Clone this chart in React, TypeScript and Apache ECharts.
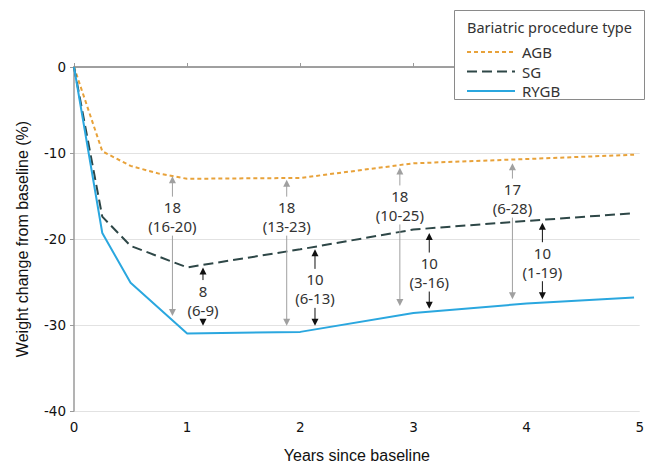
import React, { useEffect, useRef } from "react";
import * as echarts from "echarts";

// ---- data ----
const agbX = [0, 0.25, 0.5, 0.75, 1, 2, 3, 4, 4.95];
const agbY = [0, -9.8, -11.5, -12.4, -13.0, -12.9, -11.2, -10.7, -10.2];
const sgX = [0, 0.25, 0.5, 1, 2, 3, 4, 4.95];
const sgY = [0, -17.4, -20.8, -23.3, -21.2, -18.9, -17.9, -17.0];
const rygbX = [0, 0.25, 0.5, 1, 2, 3, 4, 4.95];
const rygbY = [0, -19.3, -25.1, -31.0, -30.8, -28.6, -27.5, -26.8];

const seriesNames = ["AGB", "SG", "RYGB"];
const xTicks = [0, 1, 2, 3, 4, 5];
const yTicks = [-40, -30, -20, -10, 0];

// annotations: difference arrows (x, top tip, text centre, bottom tip)
const annX = [0.87, 1.88, 2.88, 3.875, 1.14, 2.13, 3.14, 4.14];
const annTop = [-12.7, -13.1, -11.7, -11.2, -23.3, -21.2, -19.3, -18.1];
const annMid = [-17.4, -17.4, -16.1, -15.3, -27.1, -25.8, -23.9, -22.7];
const annBottom = [-28.95, -30.1, -27.8, -27.0, -30.1, -30.1, -28.1, -27.0];
const annValue = ["18", "18", "18", "17", "8", "10", "10", "10"];
const annRange = ["(16-20)", "(13-23)", "(10-25)", "(6-28)", "(6-9)", "(6-13)", "(3-16)", "(1-19)"];
const annKind = ["gray", "gray", "gray", "gray", "black", "black", "black", "black"];

const zip = (xs: number[], ys: number[]) => xs.map((x, i) => [x, ys[i]]);

const colors = ["#e8a23a", "#2e4747", "#2aa7df"];
const dashes: any[] = [[4, 3], [10, 5], "solid"];

export default function App() {
  const ref = useRef<HTMLDivElement>(null);
  useEffect(() => {
    document.body.style.margin = "0";
    const chart = echarts.init(ref.current!, undefined, { renderer: "svg" });
    const axisGray = "#9a9a9a";
    const font = "'Noto Sans', sans-serif";
    const swatchTop = 52;
    const legendStep = 19.5;
    chart.setOption({
      animation: false,
      backgroundColor: "#ffffff",
      grid: { left: 74, right: 4, top: 67, bottom: 56 },
      xAxis: [
        {
          type: "value",
          min: xTicks[0],
          max: xTicks[xTicks.length - 1],
          interval: 1,
          name: "Years since baseline",
          nameLocation: "middle",
          nameGap: 36,
          nameTextStyle: { fontFamily: "'Liberation Sans', Arial, sans-serif", fontSize: 16, color: "#111" },
          axisLine: { show: true, lineStyle: { color: axisGray, width: 1.5 } },
          axisTick: { show: true, inside: true, length: 4, lineStyle: { color: axisGray } },
          axisLabel: { fontFamily: "'DejaVu Sans', sans-serif", fontSize: 13.5, color: "#111", margin: 9 },
          splitLine: { show: false },
        },
        {
          type: "value",
          position: "top",
          min: 0,
          max: 5,
          axisLine: { show: true, onZero: false, lineStyle: { color: axisGray, width: 1.5 } },
          axisTick: { show: false },
          axisLabel: { show: false },
          splitLine: { show: false },
        },
      ],
      yAxis: {
        type: "value",
        min: yTicks[0],
        max: yTicks[yTicks.length - 1],
        interval: 10,
        name: "Weight change from baseline (%)",
        nameLocation: "middle",
        nameGap: 44,
        nameTextStyle: { fontFamily: "'Liberation Sans', Arial, sans-serif", fontSize: 16, color: "#111" },
        axisLine: { show: true, lineStyle: { color: axisGray, width: 1.5 } },
        axisTick: { show: true, length: 4, lineStyle: { color: axisGray } },
        axisLabel: { fontFamily: "'DejaVu Sans', sans-serif", fontSize: 13.5, color: "#111", margin: 8 },
        splitLine: { show: true, lineStyle: { color: "#e2e2e2", width: 1 } },
      },
      legend: {
        data: seriesNames.map((n) => ({ name: n, icon: "none" })),
        orient: "vertical",
        left: 467,
        top: 39,
        itemWidth: 48,
        itemHeight: 16,
        itemGap: legendStep - 16,
        z: 20,
        textStyle: { fontFamily: font, fontSize: 15, lineHeight: 16, color: "#333", padding: [0, 0, 0, -3] },
      },
      graphic: [
        {
          type: "rect",
          left: 454,
          top: 10,
          shape: { width: 190, height: 89 },
          style: { fill: "#fff", stroke: "#8a8a8a", lineWidth: 1 },
          z: 10,
        },
        {
          type: "text",
          left: 467,
          top: 19,
          style: { text: "Bariatric procedure type", fontFamily: font, fontSize: 14.5, fill: "#333" },
          z: 11,
        },
        ...seriesNames.map((n, i) => ({
          type: "line",
          shape: {
            x1: 467,
            y1: swatchTop + i * legendStep,
            x2: 515,
            y2: swatchTop + i * legendStep,
          },
          style: { stroke: colors[i], lineWidth: 2, lineDash: dashes[i] === "solid" ? null : dashes[i] },
          z: 21,
        })),
      ],
      series: [
        {
          name: "AGB",
          type: "line",
          data: zip(agbX, agbY),
          showSymbol: false,
          symbol: "none",
          lineStyle: { color: colors[0], width: 2, type: dashes[0] },
          itemStyle: { color: colors[0] },
          z: 3,
        },
        {
          name: "SG",
          type: "line",
          data: zip(sgX, sgY),
          showSymbol: false,
          symbol: "none",
          lineStyle: { color: colors[1], width: 2, type: dashes[1] },
          itemStyle: { color: colors[1] },
          z: 3,
        },
        {
          name: "RYGB",
          type: "line",
          data: zip(rygbX, rygbY),
          showSymbol: false,
          symbol: "none",
          lineStyle: { color: colors[2], width: 2 },
          itemStyle: { color: colors[2] },
          z: 3,
        },
        {
          type: "custom",
          name: "annotations",
          data: annX.map((x, i) => [x, annTop[i], annMid[i], annBottom[i]]),
          encode: { x: 0, y: [1, 2, 3] },
          z: 4,
          renderItem: (params: any, api: any) => {
            const i = params.dataIndex;
            const x = api.value(0);
            const pTop = api.coord([x, api.value(1)]);
            const pMid = api.coord([x, api.value(2)]);
            const pBot = api.coord([x, api.value(3)]);
            const color = annKind[i] === "gray" ? "#a0a0a0" : "#111111";
            const px = pTop[0];
            const gap = 20;
            const ah = 7;
            const aw = 3.5;
            const children: any[] = [];
            const upEnd = pMid[1] - gap;
            if (upEnd > pTop[1] + ah) {
              children.push({
                type: "line",
                shape: { x1: px, y1: pTop[1] + ah - 1, x2: px, y2: upEnd },
                style: { stroke: color, lineWidth: 1 },
              });
            }
            children.push({
              type: "polygon",
              shape: { points: [[px, pTop[1]], [px - aw, pTop[1] + ah], [px + aw, pTop[1] + ah]] },
              style: { fill: color },
            });
            const downStart = pMid[1] + gap - 1;
            if (pBot[1] - ah > downStart) {
              children.push({
                type: "line",
                shape: { x1: px, y1: downStart, x2: px, y2: pBot[1] - ah + 1 },
                style: { stroke: color, lineWidth: 1 },
              });
            }
            children.push({
              type: "polygon",
              shape: { points: [[px, pBot[1]], [px - aw, pBot[1] - ah], [px + aw, pBot[1] - ah]] },
              style: { fill: color },
            });
            children.push({
              type: "text",
              style: {
                text: annValue[i] + "\n" + annRange[i],
                x: px,
                y: pMid[1],
                align: "center",
                verticalAlign: "middle",
                fontFamily: font,
                fontSize: 15,
                lineHeight: 19,
                fill: "#333",
              },
            });
            return { type: "group", children };
          },
        },
      ],
    });
    return () => chart.dispose();
  }, []);
  return <div ref={ref} style={{ width: 647, height: 468 }} />;
}
